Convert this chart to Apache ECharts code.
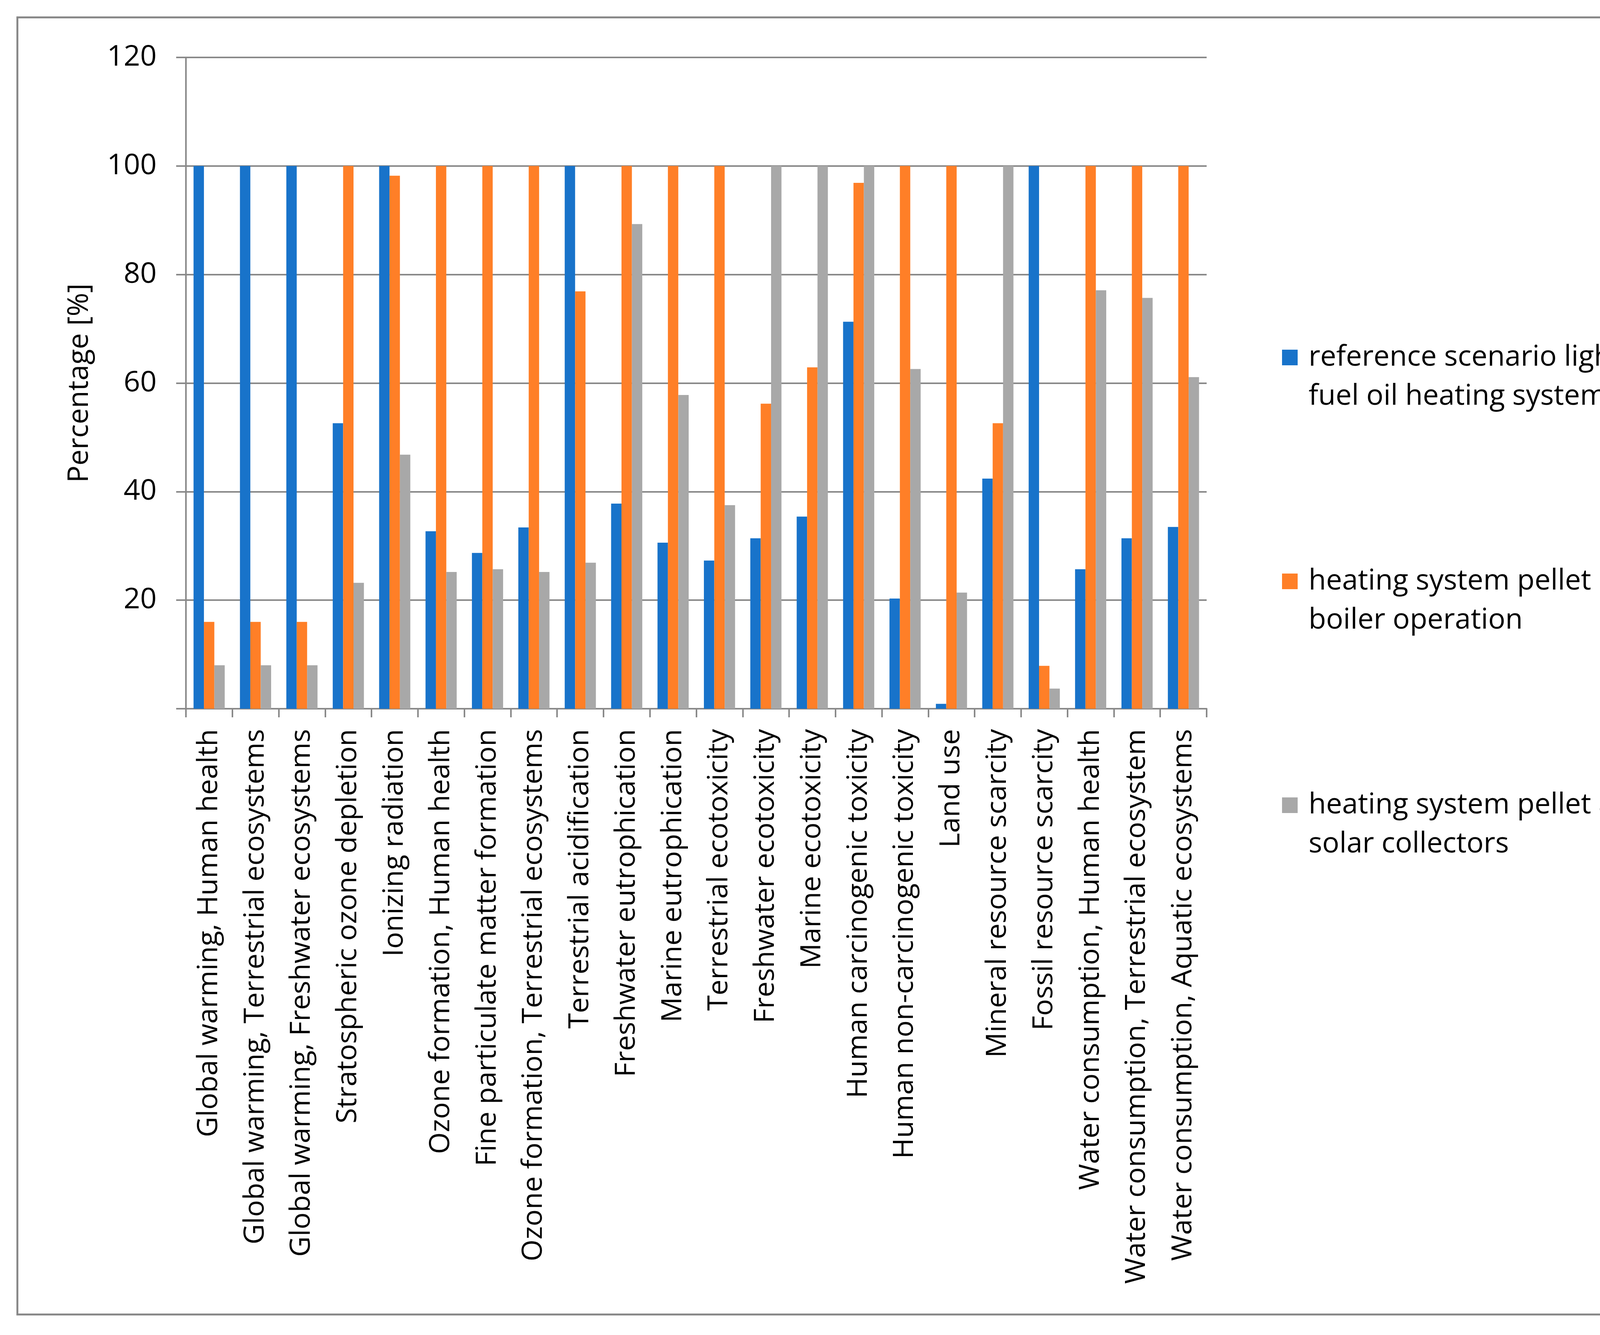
<!DOCTYPE html>
<html>
<head>
<meta charset="utf-8">
<script src="https://cdn.jsdelivr.net/npm/echarts@6/dist/echarts.min.js"></script>
<style>html,body{margin:0;padding:0;background:#fff;}#c{width:4443px;height:3417px;}</style>
</head>
<body>
<div id="c"></div>
<script>
var categories = [
  'Global warming, Human health',
  'Global warming, Terrestrial ecosystems',
  'Global warming, Freshwater ecosystems',
  'Stratospheric ozone depletion',
  'Ionizing radiation',
  'Ozone formation, Human health',
  'Fine particulate matter formation',
  'Ozone formation, Terrestrial ecosystems',
  'Terrestrial acidification',
  'Freshwater eutrophication',
  'Marine eutrophication',
  'Terrestrial ecotoxicity',
  'Freshwater ecotoxicity',
  'Marine ecotoxicity',
  'Human carcinogenic toxicity',
  'Human non-carcinogenic toxicity',
  'Land use',
  'Mineral resource scarcity',
  'Fossil resource scarcity',
  'Water consumption, Human health',
  'Water consumption, Terrestrial ecosystem',
  'Water consumption, Aquatic ecosystems'
];
var seriesNames = [
  'reference scenario light\nfuel oil heating system',
  'heating system pellet\nboiler operation',
  'heating system pellet and\nsolar collectors'
];
var refOil = [100,100,100,52.6,100,32.7,28.7,33.4,100,37.8,30.6,27.3,31.4,35.4,71.3,20.3,0.9,42.4,100,25.7,31.4,33.5];
var pellet = [16,16,16,100,98.2,100,100,100,76.9,100,100,100,56.2,62.9,96.9,100,100,52.6,7.9,100,100,100];
var pelletSolar = [8,8,8,23.2,46.8,25.2,25.7,25.2,26.9,89.3,57.8,37.5,100,100,100,62.6,21.4,100,3.7,77.1,75.7,61.1];
var yTicks = [0,20,40,60,80,100,120];

var FONT = 'Open Sans';
var GRAY = '#898989';
var colors = ['#1873CA', '#FF7F27', '#A8A8A8'];

var chart = echarts.init(document.getElementById('c'));
function bar(name, data, color) {
  return {
    name: name, type: 'bar', data: data,
    barWidth: '22.4%', barGap: '0%',
    itemStyle: { color: color },
    emphasis: { disabled: true }
  };
}
chart.setOption({
  animation: false,
  backgroundColor: '#ffffff',
  color: colors,
  textStyle: { fontFamily: FONT },
  graphic: [{
    type: 'rect', left: 42, top: 42,
    shape: { width: 4356, height: 3320 },
    style: { fill: 'none', stroke: GRAY, lineWidth: 5 }
  }],
  grid: { left: 476, right: 1354, top: 147, bottom: 1603, containLabel: false },
  legend: {
    orient: 'vertical', left: 3282, top: 765, padding: 0,
    itemWidth: 40, itemHeight: 40, itemGap: 273,
    icon: 'rect',
    selectedMode: false,
    formatter: function (n) { return '\n' + n; },
    textStyle: { fontFamily: FONT, fontSize: 73, color: '#000', lineHeight: 100, padding: [0, 0, 0, 23] },
    data: seriesNames
  },
  xAxis: {
    type: 'category', data: categories,
    axisLine: { lineStyle: { color: GRAY, width: 4 } },
    axisTick: { show: true, length: 22, lineStyle: { color: GRAY, width: 4 }, alignWithLabel: false },
    axisLabel: { rotate: 90, interval: 0, margin: 52, fontFamily: FONT, fontSize: 72, color: '#000' },
    splitLine: { show: false }
  },
  yAxis: {
    type: 'value', min: yTicks[0], max: yTicks[yTicks.length - 1], interval: 20,
    name: 'Percentage [%]', nameLocation: 'middle', nameGap: 235, nameRotate: 90,
    nameTextStyle: { fontFamily: FONT, fontSize: 73, color: '#000' },
    axisLine: { show: true, lineStyle: { color: GRAY, width: 4 } },
    axisTick: { show: true, length: 25, lineStyle: { color: GRAY, width: 4 } },
    axisLabel: { margin: 75, fontFamily: FONT, fontSize: 74, color: '#000',
      formatter: function (v) { return v === 0 ? '' : String(v); } },
    splitLine: { show: true, lineStyle: { color: GRAY, width: 4 } }
  },
  series: [
    bar(seriesNames[0], refOil, colors[0]),
    bar(seriesNames[1], pellet, colors[1]),
    bar(seriesNames[2], pelletSolar, colors[2])
  ]
});
</script>
</body>
</html>
